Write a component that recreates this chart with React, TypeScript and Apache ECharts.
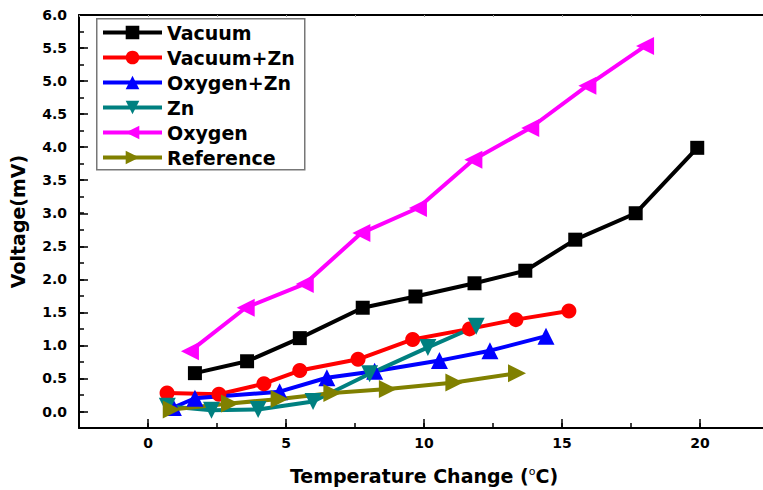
import React, { useEffect, useRef } from "react";
import * as echarts from "echarts";

const seriesNames = ["Vacuum", "Vacuum+Zn", "Oxygen+Zn", "Zn", "Oxygen", "Reference"];

const vacuumX = [1.7, 3.59, 5.5, 7.78, 9.69, 11.83, 13.67, 15.48, 17.67, 19.9];
const vacuumY = [0.58, 0.76, 1.11, 1.57, 1.74, 1.94, 2.13, 2.6, 3.0, 3.99];

const vacZnX = [0.69, 2.57, 4.2, 5.5, 7.61, 9.59, 11.65, 13.33, 15.25];
const vacZnY = [0.28, 0.26, 0.42, 0.62, 0.79, 1.09, 1.25, 1.39, 1.52];

const oxZnX = [0.92, 1.7, 4.77, 6.48, 8.21, 10.56, 12.39, 14.42];
const oxZnY = [0.06, 0.2, 0.3, 0.51, 0.61, 0.77, 0.92, 1.14];

const znX = [0.7, 2.3, 3.99, 5.98, 8.03, 10.14, 11.89];
const znY = [0.08, 0.02, 0.03, 0.15, 0.57, 0.97, 1.29];

const oxX = [1.52, 3.54, 5.68, 7.73, 9.78, 11.79, 13.85, 15.92, 18.01];
const oxY = [0.91, 1.57, 1.93, 2.7, 3.08, 3.81, 4.29, 4.93, 5.53];

const refX = [0.86, 2.97, 4.77, 6.68, 8.69, 11.1, 13.37];
const refY = [0.03, 0.12, 0.19, 0.28, 0.34, 0.44, 0.58];

const xMin = -2.5;
const xMax = 22.5;
const yMin = -0.25;
const yMax = 6;

const pairs = (xs: number[], ys: number[]) => xs.map((x, i) => [x, ys[i]]);

const seriesDefs = [
  { name: seriesNames[0], xs: vacuumX, ys: vacuumY, color: "#000000", symbol: "rect", size: 14, rotate: 0 },
  { name: seriesNames[1], xs: vacZnX, ys: vacZnY, color: "#ff0000", symbol: "circle", size: 15, rotate: 0 },
  { name: seriesNames[2], xs: oxZnX, ys: oxZnY, color: "#0000ff", symbol: "triangle", size: 17, rotate: 0 },
  { name: seriesNames[3], xs: znX, ys: znY, color: "#008080", symbol: "triangle", size: 17, rotate: 180 },
  { name: seriesNames[4], xs: oxX, ys: oxY, color: "#ff00ff", symbol: "triangle", size: 18, rotate: 90 },
  { name: seriesNames[5], xs: refX, ys: refY, color: "#808000", symbol: "triangle", size: 18, rotate: -90 },
];

const WIDE_SANS = "'DejaVu Sans', sans-serif";

export default function App() {
  const ref = useRef<HTMLDivElement>(null);

  useEffect(() => {
    if (!ref.current) return;
    const chart = echarts.init(ref.current, undefined, { renderer: "svg" });

    const hidden = (gridIndex: number, min: number, max: number) => ({
      type: "value", gridIndex, min, max, show: false, axisLine: { onZero: false },
    });

    const option: any = {
      animation: false,
      backgroundColor: "#ffffff",
      grid: [
        { left: 79, top: 15, width: 690, height: 413, outerBoundsMode: "none", containLabel: false },
        { left: 148, top: 15, width: 552, height: 413, outerBoundsMode: "none", containLabel: false },
        { left: 79, top: 15, width: 690, height: 396.5, outerBoundsMode: "none", containLabel: false },
      ],
      xAxis: [
        {
          type: "value", gridIndex: 0, position: "bottom", min: xMin, max: xMax, interval: 2.5,
          axisLine: { show: true, onZero: false, lineStyle: { color: "#000", width: 2 } },
          axisTick: { show: true, inside: true, length: 5, lineStyle: { color: "#000", width: 1.5 } },
          axisLabel: { show: false },
          splitLine: { show: false },
          name: "Temperature Change ({sup|o}C)",
          nameLocation: "middle",
          nameGap: 38,
          nameTextStyle: {
            fontFamily: WIDE_SANS, fontWeight: "bold", fontSize: 19, color: "#000", lineHeight: 19,
            rich: {
              sup: { fontFamily: WIDE_SANS, fontWeight: "normal", fontSize: 11, verticalAlign: "top", lineHeight: 11, color: "#000" },
            },
          },
        },
        {
          type: "value", gridIndex: 0, position: "top", min: xMin, max: xMax, interval: 2.5,
          axisLine: { show: true, onZero: false, lineStyle: { color: "#000", width: 2 } },
          axisTick: { show: true, inside: true, length: 2, lineStyle: { color: "#999", width: 1 } },
          axisLabel: { show: false },
          splitLine: { show: false },
        },
        {
          type: "value", gridIndex: 1, position: "bottom", min: 0, max: 20, interval: 5,
          axisLine: { show: false, onZero: false },
          axisTick: { show: true, inside: true, length: 9, lineStyle: { color: "#000", width: 1.5 } },
          axisLabel: { show: true, margin: 8, fontFamily: WIDE_SANS, fontWeight: "bold", fontSize: 14, color: "#000" },
          splitLine: { show: false },
        },
        hidden(2, xMin, xMax),
      ],
      yAxis: [
        {
          type: "value", gridIndex: 0, position: "left", min: yMin, max: yMax, interval: 0.25,
          axisLine: { show: true, onZero: false, lineStyle: { color: "#000", width: 2 } },
          axisTick: { show: true, inside: true, length: 5, lineStyle: { color: "#000", width: 1.5 } },
          axisLabel: { show: false },
          splitLine: { show: false },
          name: "Voltage(mV)",
          nameLocation: "middle",
          nameGap: 52,
          nameRotate: 90,
          nameTextStyle: { fontFamily: WIDE_SANS, fontWeight: "bold", fontSize: 19, color: "#000" },
        },
        hidden(1, yMin, yMax),
        {
          type: "value", gridIndex: 2, position: "left", min: 0, max: 6, interval: 0.5,
          axisLine: { show: false, onZero: false },
          axisTick: { show: true, inside: true, length: 9, lineStyle: { color: "#000", width: 1.5 } },
          axisLabel: {
            show: true, margin: 12, fontFamily: WIDE_SANS, fontWeight: "bold", fontSize: 14, color: "#000",
            formatter: (v: number) => v.toFixed(1),
          },
          splitLine: { show: false },
        },
      ],
      legend: {
        orient: "vertical",
        left: 101,
        top: 23,
        padding: 0,
        itemWidth: 59,
        itemHeight: 17,
        itemGap: 6,
        selectedMode: false,
        data: seriesNames,
        lineStyle: { width: 4 },
        textStyle: { fontFamily: WIDE_SANS, fontWeight: "bold", fontSize: 19, color: "#000", lineHeight: 19 },
      },
      graphic: [
        {
          type: "rect",
          left: 96,
          top: 18,
          z: 3,
          shape: { width: 208, height: 151 },
          style: { fill: "#ffffff", stroke: "#777777", lineWidth: 1.5 },
        },
      ],
      series: seriesDefs.map((d) => ({
        name: d.name,
        type: "line",
        xAxisIndex: 0,
        yAxisIndex: 0,
        data: pairs(d.xs, d.ys),
        symbol: d.symbol,
        symbolSize: d.size,
        symbolRotate: d.rotate,
        showAllSymbol: true,
        lineStyle: { color: d.color, width: 4 },
        itemStyle: { color: d.color, borderWidth: 0 },
        emphasis: { disabled: true },
      })),
    };

    chart.setOption(option);
    return () => chart.dispose();
  }, []);

  return (
    <div
      ref={ref}
      style={{ position: "fixed", left: 0, top: 0, width: 763, height: 490, background: "#fff" }}
    />
  );
}
